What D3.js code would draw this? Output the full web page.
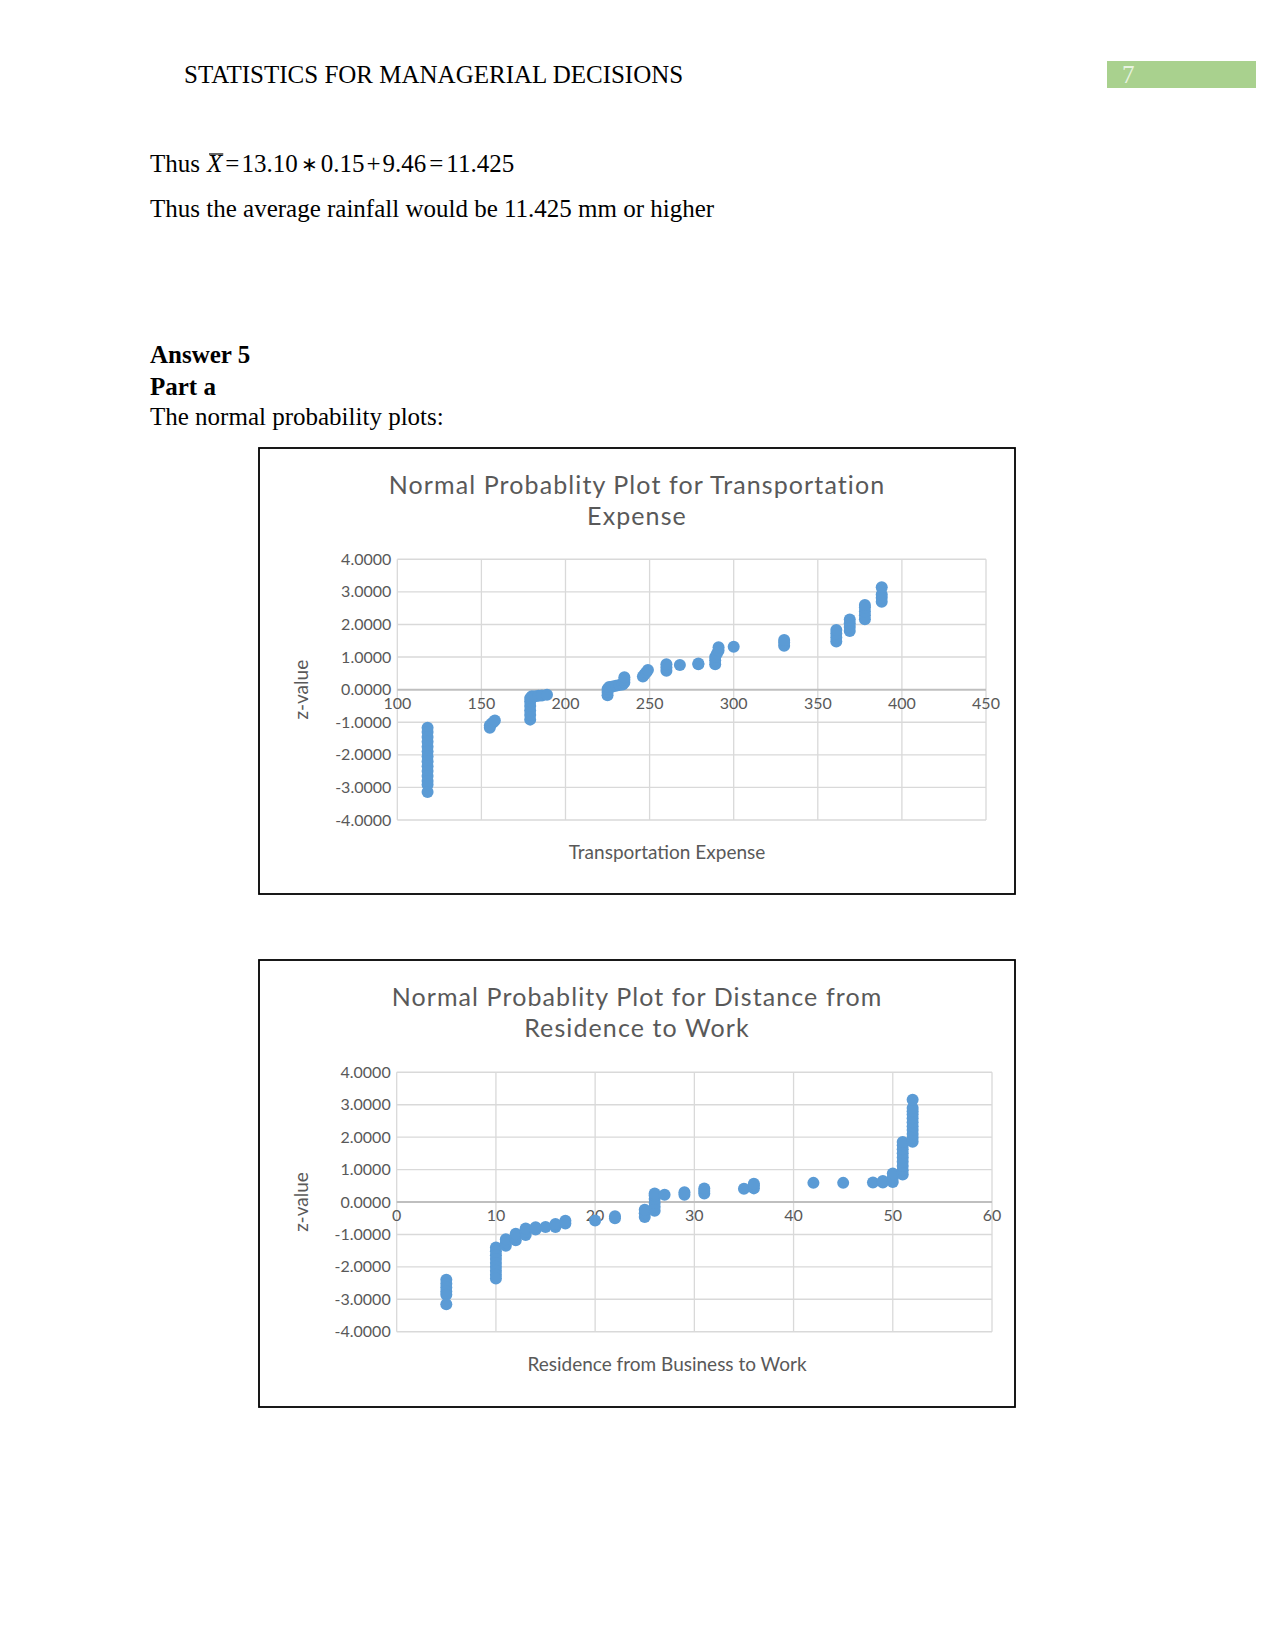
<!DOCTYPE html>
<html><head><meta charset="utf-8">
<script src="https://cdn.jsdelivr.net/npm/d3@7"></script>
<style>
html,body{margin:0;padding:0;background:#fff;}
svg{display:block;}
</style></head>
<body>
<svg id="page" width="1275" height="1650"></svg>
<script>
// ---------- data ----------
const yTickValues = [4, 3, 2, 1, 0, -1, -2, -3, -4];
const xTicksTransport = [100, 150, 200, 250, 300, 350, 400, 450];
const xTicksDistance = [0, 10, 20, 30, 40, 50, 60];

const transportX = [118,118,118,118,118,118,118,118,118,118,118,118,118,118,
  155,155,156,157,158,
  179,179,179,179,179,179,180,182,184,186,189,
  225,225,225,226,228,230,232,234,235,235,235,
  246,247,248,249,
  260,260,260,
  268,
  279,279,
  289,289,289,290,291,291,
  300,
  330,330,330,
  361,361,361,361,
  369,369,369,369,
  378,378,378,378,378,
  388,388,388,388];
const transportZ = [-1.17,-1.3,-1.45,-1.6,-1.75,-1.9,-2.05,-2.2,-2.35,-2.5,-2.65,-2.8,-2.92,-3.14,
  -1.17,-1.1,-1.05,-1.0,-0.95,
  -0.92,-0.78,-0.64,-0.5,-0.36,-0.26,-0.2,-0.2,-0.19,-0.18,-0.16,
  -0.17,-0.07,0.02,0.08,0.1,0.12,0.14,0.16,0.22,0.3,0.38,
  0.4,0.47,0.53,0.6,
  0.58,0.68,0.78,
  0.76,
  0.78,0.8,
  0.78,0.9,1.0,1.1,1.2,1.3,
  1.32,
  1.35,1.45,1.52,
  1.48,1.6,1.72,1.83,
  1.8,1.92,2.04,2.15,
  2.16,2.28,2.4,2.52,2.6,
  2.7,2.82,2.92,3.14];

const distanceX = [5,5,5,5,5,5,
  10,10,10,10,10,10,10,10,10,
  11,11,11, 12,12,12, 13,13,13, 14,14, 15, 16,16, 17,17,
  20, 22,22, 25,25,25, 26,26,26,26,26,26, 27, 29,29, 31,31,31, 35, 36,36,36,
  42, 45, 48, 49,49, 50,50,50,
  51,51,51,51,51,51,51,51,51,
  52,52,52,52,52,52,52,52,52,52,52];
const distanceZ = [-2.4,-2.52,-2.64,-2.76,-2.86,-3.15,
  -1.4,-1.52,-1.64,-1.76,-1.88,-2.0,-2.12,-2.24,-2.36,
  -1.35,-1.25,-1.15, -1.18,-1.08,-0.98, -1.02,-0.92,-0.82, -0.85,-0.78, -0.77, -0.77,-0.68, -0.66,-0.58,
  -0.57, -0.5,-0.44, -0.46,-0.35,-0.24, -0.27,-0.15,-0.03,0.09,0.2,0.26, 0.22, 0.22,0.3, 0.26,0.34,0.42, 0.41, 0.42,0.5,0.56,
  0.59, 0.59, 0.6, 0.6,0.65, 0.62,0.75,0.88,
  0.85,0.98,1.11,1.24,1.37,1.5,1.63,1.75,1.85,
  1.86,1.98,2.1,2.22,2.34,2.46,2.58,2.7,2.8,2.9,3.15];

// ---------- page text ----------
const svg = d3.select("#page");
const serif = "'Liberation Serif','Times New Roman',serif";

svg.append("text").attr("x", 184).attr("y", 83).attr("font-family", serif)
  .attr("font-size", 25).attr("fill", "#000").text("STATISTICS FOR MANAGERIAL DECISIONS");
svg.append("rect").attr("x", 1107).attr("y", 61).attr("width", 149).attr("height", 27).attr("fill", "#a9d18e");
svg.append("text").attr("x", 1122).attr("y", 83).attr("font-family", serif)
  .attr("font-size", 25).attr("fill", "#e8f3e0").text("7");

// math line
svg.append("text").attr("x", 150).attr("y", 172).attr("font-family", serif)
  .attr("font-size", 25).text("Thus");
const xStart = 207;
const tx = svg.append("text").attr("x", xStart).attr("y", 172).attr("font-family", serif)
  .attr("font-size", 25).attr("font-style", "italic").text("X");
const wx = tx.node().getComputedTextLength();
svg.append("line").attr("x1", xStart + 2).attr("x2", xStart + wx + 1)
  .attr("y1", 154).attr("y2", 154).attr("stroke", "#000").attr("stroke-width", 1.2);
const mt = svg.append("text").attr("x", xStart + wx + 3).attr("y", 172)
  .attr("font-family", serif).attr("font-size", 25);
mt.append("tspan").text("=");
mt.append("tspan").attr("dx", 2).text("13.10");
mt.append("tspan").attr("dx", 3).attr("font-size", 20).attr("dy", -1).text("\u2217");
mt.append("tspan").attr("dx", 3).attr("dy", 1).text("0.15");
mt.append("tspan").attr("dx", 2).text("+");
mt.append("tspan").attr("dx", 2).text("9.46");
mt.append("tspan").attr("dx", 3).text("=");
mt.append("tspan").attr("dx", 3).text("11.425");

svg.append("text").attr("x", 150).attr("y", 217).attr("font-family", serif)
  .attr("font-size", 25).text("Thus the average rainfall would be 11.425 mm or higher");
svg.append("text").attr("x", 150).attr("y", 363).attr("font-family", serif)
  .attr("font-size", 25).attr("font-weight", "bold").text("Answer 5");
svg.append("text").attr("x", 150).attr("y", 395).attr("font-family", serif)
  .attr("font-size", 25).attr("font-weight", "bold").text("Part a");
svg.append("text").attr("x", 150).attr("y", 425).attr("font-family", serif)
  .attr("font-size", 25).text("The normal probability plots:");

// ---------- charts ----------
const sans = "Lato, 'Open Sans', sans-serif";
const grey = "#595959";

function drawChart(cfg) {
  const g = svg.append("g");
  g.append("rect").attr("x", cfg.box[0]).attr("y", cfg.box[1])
    .attr("width", cfg.box[2] - cfg.box[0]).attr("height", cfg.box[3] - cfg.box[1])
    .attr("fill", "#fff").attr("stroke", "#000").attr("stroke-width", 1.8);

  const cx = (cfg.box[0] + cfg.box[2]) / 2;
  cfg.title.forEach((line, i) => {
    g.append("text").attr("x", cx).attr("y", cfg.titleY[i]).attr("text-anchor", "middle")
      .attr("font-family", sans).attr("font-size", 25).attr("letter-spacing", 1.1)
      .attr("fill", grey).text(line);
  });

  const x = d3.scaleLinear().domain(cfg.xDomain).range(cfg.xRange);
  const y = d3.scaleLinear().domain([-4, 4]).range(cfg.yRange);

  // gridlines
  g.append("g").selectAll("line").data(cfg.xTicks).join("line")
    .attr("x1", d => x(d)).attr("x2", d => x(d))
    .attr("y1", y(4)).attr("y2", y(-4))
    .attr("stroke", "#d9d9d9").attr("stroke-width", 1.3);
  g.append("g").selectAll("line").data(yTickValues.filter(d => d !== 0)).join("line")
    .attr("x1", x(cfg.xDomain[0])).attr("x2", x(cfg.xDomain[1]))
    .attr("y1", d => y(d)).attr("y2", d => y(d))
    .attr("stroke", "#d9d9d9").attr("stroke-width", 1.4);
  g.append("line").attr("x1", x(cfg.xDomain[0])).attr("x2", x(cfg.xDomain[1]))
    .attr("y1", y(0)).attr("y2", y(0)).attr("stroke", "#bfbfbf").attr("stroke-width", 2);

  // y tick labels
  g.append("g").selectAll("text").data(yTickValues).join("text")
    .attr("x", x(cfg.xDomain[0]) - 6).attr("y", d => y(d)).attr("dy", "0.35em")
    .attr("text-anchor", "end").attr("font-family", sans).attr("font-size", 16)
    .attr("fill", grey).text(d => d3.format(".4f")(d).replace("−", "-"));

  // x tick labels (sit on the zero axis)
  g.append("g").selectAll("text").data(cfg.xTicks).join("text")
    .attr("x", d => x(d)).attr("y", y(0) + 19)
    .attr("text-anchor", "middle").attr("font-family", sans).attr("font-size", 16)
    .attr("fill", grey).text(d => d);

  // axis titles
  g.append("text").attr("x", 667).attr("y", cfg.xTitleY).attr("text-anchor", "middle")
    .attr("font-family", sans).attr("font-size", 19).attr("fill", grey).text(cfg.xTitle);
  g.append("text").attr("transform", `translate(308,${(y(4) + y(-4)) / 2}) rotate(-90)`)
    .attr("text-anchor", "middle").attr("font-family", sans).attr("font-size", 19)
    .attr("fill", grey).text("z-value");

  // points
  g.append("g").selectAll("circle").data(cfg.xs.map((v, i) => [v, cfg.zs[i]])).join("circle")
    .attr("cx", d => x(d[0])).attr("cy", d => y(d[1])).attr("r", 6)
    .attr("fill", "#5b9bd5");
}

drawChart({
  box: [259, 448, 1015, 894],
  title: ["Normal Probablity Plot for Transportation", "Expense"],
  titleY: [494, 524.5],
  xDomain: [100, 450], xRange: [397.3, 986],
  yRange: [820, 559.3],
  xTicks: xTicksTransport,
  xTitle: "Transportation Expense", xTitleY: 859,
  xs: transportX, zs: transportZ
});

drawChart({
  box: [259, 960, 1015, 1407],
  title: ["Normal Probablity Plot for Distance from", "Residence to Work"],
  titleY: [1006, 1036.5],
  xDomain: [0, 60], xRange: [396.7, 992],
  yRange: [1331.7, 1072.3],
  xTicks: xTicksDistance,
  xTitle: "Residence from Business to Work", xTitleY: 1371,
  xs: distanceX, zs: distanceZ
});
</script>
</body></html>
